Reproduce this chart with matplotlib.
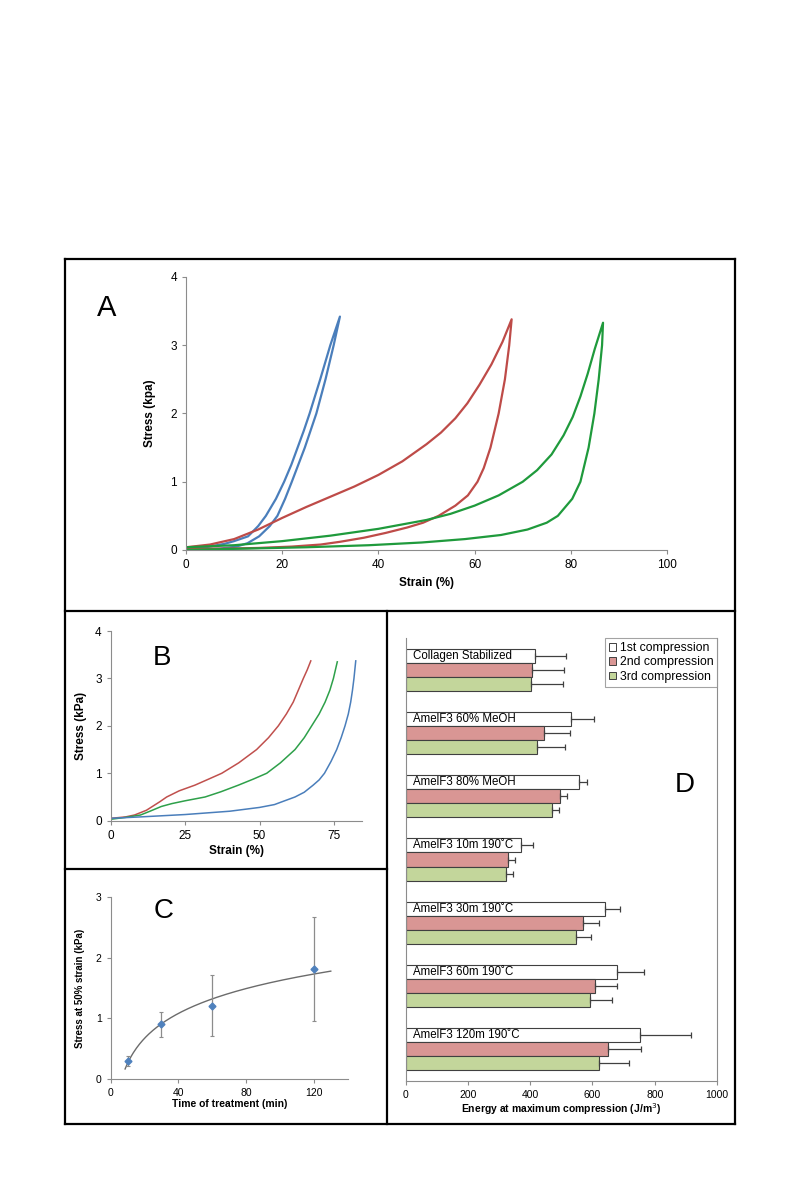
import numpy as np
import matplotlib
matplotlib.use('Agg')
import matplotlib.pyplot as plt
from matplotlib.lines import Line2D
from matplotlib.patches import Patch

plt.rcParams['font.family'] = ['Liberation Sans', 'DejaVu Sans']

# ============================================================
# Data
# ============================================================
# Panel A: loading / unloading curves (strain %, stress kPa)
a_blue_x = [0, 4, 8, 10, 12.9, 15.0, 16.6, 18.7, 20.4, 21.9, 23.2, 24.5, 25.7, 27.9, 30.0, 32,
            30.7, 29.0, 27.1, 24.7, 22.0, 20.6, 19.0, 17.4, 15.2, 12.8, 10.5, 7, 3, 0]
a_blue_y = [0.02, 0.04, 0.09, 0.13, 0.2, 0.35, 0.5, 0.75, 1.0, 1.25, 1.5, 1.75, 2.0, 2.5, 3.0, 3.42,
            3.0, 2.5, 2.0, 1.5, 1.0, 0.75, 0.5, 0.35, 0.2, 0.1, 0.05, 0.02, 0.01, 0.0]
a_red_x = [0, 5, 10, 15, 20, 25, 30, 35, 40, 45, 50, 53, 56, 58.5, 61, 63.5, 65.8, 67.7,
           67.2, 66.3, 65.0, 63.3, 61.9, 60.6, 58.6, 56.0, 52.5, 49.3, 46, 41.5, 37, 32, 28, 22, 15, 8, 0]
a_red_y = [0.04, 0.08, 0.16, 0.3, 0.47, 0.63, 0.78, 0.93, 1.1, 1.3, 1.55, 1.72, 1.93, 2.15, 2.42, 2.72, 3.05, 3.38,
           3.0, 2.5, 2.0, 1.5, 1.2, 1.0, 0.8, 0.65, 0.5, 0.4, 0.33, 0.25, 0.18, 0.12, 0.08, 0.05, 0.03, 0.02, 0.02]
a_green_x = [0, 10, 20, 30, 40, 50, 55, 60, 65, 70, 73, 76, 78.5, 80.4, 82, 83.5, 85, 86.7,
             86.5, 85.8, 84.9, 83.7, 82.0, 80.3, 77.3, 75.0, 71.0, 65.5, 58, 49, 38, 25, 12, 0]
a_green_y = [0.04, 0.07, 0.13, 0.21, 0.31, 0.44, 0.53, 0.65, 0.8, 1.0, 1.17, 1.4, 1.68, 1.95, 2.25, 2.58, 2.95, 3.33,
             3.0, 2.5, 2.0, 1.5, 1.0, 0.75, 0.5, 0.4, 0.3, 0.22, 0.16, 0.11, 0.07, 0.04, 0.02, 0.0]

# Panel B: loading curves
b_red_x = [0, 5, 8, 10, 12, 14, 16.5, 18.8, 23, 28.3, 33, 37.3, 43, 49, 53, 56.3, 59, 61.3, 63, 64.7, 66, 67.2]
b_red_y = [0.05, 0.08, 0.12, 0.17, 0.22, 0.3, 0.4, 0.5, 0.63, 0.75, 0.88, 1.0, 1.22, 1.5, 1.75, 2.0, 2.25, 2.5, 2.75, 3.0, 3.18, 3.37]
b_green_x = [0, 5, 10, 13.2, 17, 20.5, 25, 31.7, 37, 42.9, 48, 52.4, 57, 61.9, 65, 67.5, 70, 72, 73.6, 74.8, 76.1]
b_green_y = [0.03, 0.07, 0.12, 0.2, 0.3, 0.36, 0.42, 0.5, 0.61, 0.75, 0.88, 1.0, 1.22, 1.5, 1.75, 2.0, 2.25, 2.5, 2.75, 3.0, 3.35]
b_blue_x = [0, 10, 25, 40, 50, 55, 58, 61.9, 65, 68, 70, 71.8, 74, 75.9, 77.4, 78.7, 79.8, 80.6, 81.2, 81.7, 82.3]
b_blue_y = [0.05, 0.08, 0.13, 0.2, 0.28, 0.34, 0.41, 0.5, 0.6, 0.75, 0.86, 1.0, 1.25, 1.5, 1.75, 2.0, 2.25, 2.5, 2.75, 3.0, 3.37]

# Panel C: stress at 50% strain vs treatment time
c_time = [10, 30, 60, 120]
c_stress = [0.3, 0.9, 1.21, 1.82]
c_err = [0.085, 0.21, 0.5, 0.86]

# Panel D: energy at maximum compression
d_groups = ['Collagen Stabilized', 'AmelF3 60% MeOH', 'AmelF3 80% MeOH',
            'AmelF3 10m 190˚C', 'AmelF3 30m 190˚C', 'AmelF3 60m 190˚C',
            'AmelF3 120m 190˚C']
d_first = [414, 531, 557, 369, 641, 679, 754]
d_first_err = [100, 75, 25, 41, 49, 88, 161]
d_second = [407, 444, 497, 330, 569, 607, 651]
d_second_err = [102, 85, 21, 22, 53, 71, 106]
d_third = [404, 422, 471, 321, 546, 593, 622]
d_third_err = [100, 89, 23, 24, 48, 71, 95]
d_series = ['1st compression', '2nd compression', '3rd compression']

# ============================================================
W, H = 800, 1200
fig = plt.figure(figsize=(8, 12), dpi=100)


def ax_px(l, t, r, b):
    return fig.add_axes([l / W, 1 - b / H, (r - l) / W, (b - t) / H])


def style(ax):
    for s in ['top', 'right']:
        ax.spines[s].set_visible(False)
    for s in ['left', 'bottom']:
        ax.spines[s].set_color('#8c8c8c')
        ax.spines[s].set_linewidth(0.8)
    ax.tick_params(colors='#8c8c8c', labelcolor='black', labelsize=8.5,
                   length=3, width=0.8, direction='out')


def fline(x0, y0, x1, y1):
    fig.add_artist(Line2D([x0 / W, x1 / W], [1 - y0 / H, 1 - y1 / H],
                          color='black', lw=1.6, solid_capstyle='projecting'))


# Panel frames
fline(64.5, 258.5, 734.5, 258.5)
fline(64.5, 1123.5, 734.5, 1123.5)
fline(64.5, 258.5, 64.5, 1123.5)
fline(734.5, 258.5, 734.5, 1123.5)
fline(64.5, 610.5, 734.5, 610.5)
fline(386.5, 610.5, 386.5, 1123.5)
fline(64.5, 868.5, 386.5, 868.5)

blue, red, green = '#4a7ebb', '#be4b48', '#1f9a3c'

# ---------------- A ----------------
axA = ax_px(186, 277, 667, 550)
style(axA)
axA.plot(a_blue_x, a_blue_y, color=blue, lw=1.6)
axA.plot(a_red_x, a_red_y, color=red, lw=1.6)
axA.plot(a_green_x, a_green_y, color=green, lw=1.6)
axA.set_xlim(0, 100)
axA.set_ylim(0, 4)
axA.set_xticks([0, 20, 40, 60, 80, 100])
axA.set_yticks([0, 1, 2, 3, 4])
axA.set_xlabel('Strain (%)', fontsize=8.5, fontweight='bold', labelpad=4)
axA.set_ylabel('Stress (kpa)', fontsize=8.5, fontweight='bold', labelpad=10)
fig.text(107 / W, 1 - 308 / H, 'A', fontsize=21, ha='center', va='center')

# ---------------- B ----------------
axB = ax_px(110.7, 631, 361.7, 820.7)
style(axB)
axB.plot(b_red_x, b_red_y, color='#c0504d', lw=1.1)
axB.plot(b_green_x, b_green_y, color='#2ea04a', lw=1.1)
axB.plot(b_blue_x, b_blue_y, color=blue, lw=1.1)
axB.set_xlim(0, 84.3)
axB.set_ylim(0, 4)
axB.set_xticks([0, 25, 50, 75])
axB.set_yticks([0, 1, 2, 3, 4])
axB.set_xlabel('Strain (%)', fontsize=8.5, fontweight='bold', labelpad=2)
axB.set_ylabel('Stress (kPa)', fontsize=8.5, fontweight='bold', labelpad=6)
fig.text(161.7 / W, 1 - 658 / H, 'B', fontsize=20, ha='center', va='center')

# ---------------- C ----------------
axC = ax_px(110.7, 897.3, 347.7, 1079)
style(axC)
coef = np.polyfit(np.log(c_time), c_stress, 1)
tt = np.linspace(8.5, 130, 200)
axC.plot(tt, coef[0] * np.log(tt) + coef[1], color='#6b6b6b', lw=1.0)
axC.errorbar(c_time, c_stress, yerr=c_err, fmt='D', color='#4f81bd', ms=3.5,
             ecolor='#8c8c8c', elinewidth=0.9, capsize=1.5, capthick=0.8)
axC.set_xlim(0, 140)
axC.set_ylim(0, 3)
axC.set_xticks([0, 40, 80, 120])
axC.set_yticks([0, 1, 2, 3])
axC.tick_params(labelsize=7.5)
axC.set_xlabel('Time of treatment (min)', fontsize=7.5, fontweight='bold', labelpad=1)
axC.set_ylabel('Stress at 50% strain (kPa)', fontsize=7, fontweight='bold', labelpad=8)
fig.text(164 / W, 1 - 911 / H, 'C', fontsize=20, ha='center', va='center')

# ---------------- D ----------------
axD = ax_px(405.7, 638.3, 717, 1080.7)
axD.spines['top'].set_visible(False)
for s in ['left', 'bottom', 'right']:
    axD.spines[s].set_color('#8c8c8c')
    axD.spines[s].set_linewidth(0.8)
axD.tick_params(axis='x', colors='#8c8c8c', labelcolor='black', labelsize=7.5,
                length=3, width=0.8)
axD.tick_params(axis='y', left=False, labelleft=False)

pos = np.arange(len(d_groups))
h = 0.222
fills = ['white', '#d99694', '#c3d69b']
vals = [d_first, d_second, d_third]
errs = [d_first_err, d_second_err, d_third_err]
for k in range(3):
    axD.barh(pos + (k - 1) * h, vals[k], height=h, color=fills[k],
             edgecolor='#404040', linewidth=0.8, label=d_series[k],
             xerr=[np.zeros(len(pos)), errs[k]],
             error_kw=dict(ecolor='#404040', elinewidth=0.9, capsize=2.5, capthick=0.9))
for i, g in enumerate(d_groups):
    axD.text(22, pos[i] - h, g, fontsize=8.3, ha='left', va='center')
axD.set_xlim(0, 1000)
axD.set_ylim(len(d_groups) - 0.5, -0.5)
axD.set_xticks([0, 200, 400, 600, 800, 1000])
axD.set_xlabel('Energy at maximum compression (J/m$^3$)', fontsize=7.5,
               fontweight='bold', labelpad=1)
handles = [Patch(facecolor=fills[k], edgecolor='#404040', linewidth=0.7) for k in range(3)]
leg = axD.legend(handles, d_series, loc='upper right', bbox_to_anchor=(1.0, 1.0),
                 fontsize=8.8, frameon=True, fancybox=False, borderaxespad=0,
                 handlelength=0.6, handleheight=0.6, handletextpad=0.3,
                 labelspacing=0.2, borderpad=0.3)
leg.get_frame().set_edgecolor('#8c8c8c')
leg.get_frame().set_linewidth(0.8)
fig.text(685 / W, 1 - 785 / H, 'D', fontsize=20, ha='center', va='center')

fig.savefig('out.png', dpi=100)
